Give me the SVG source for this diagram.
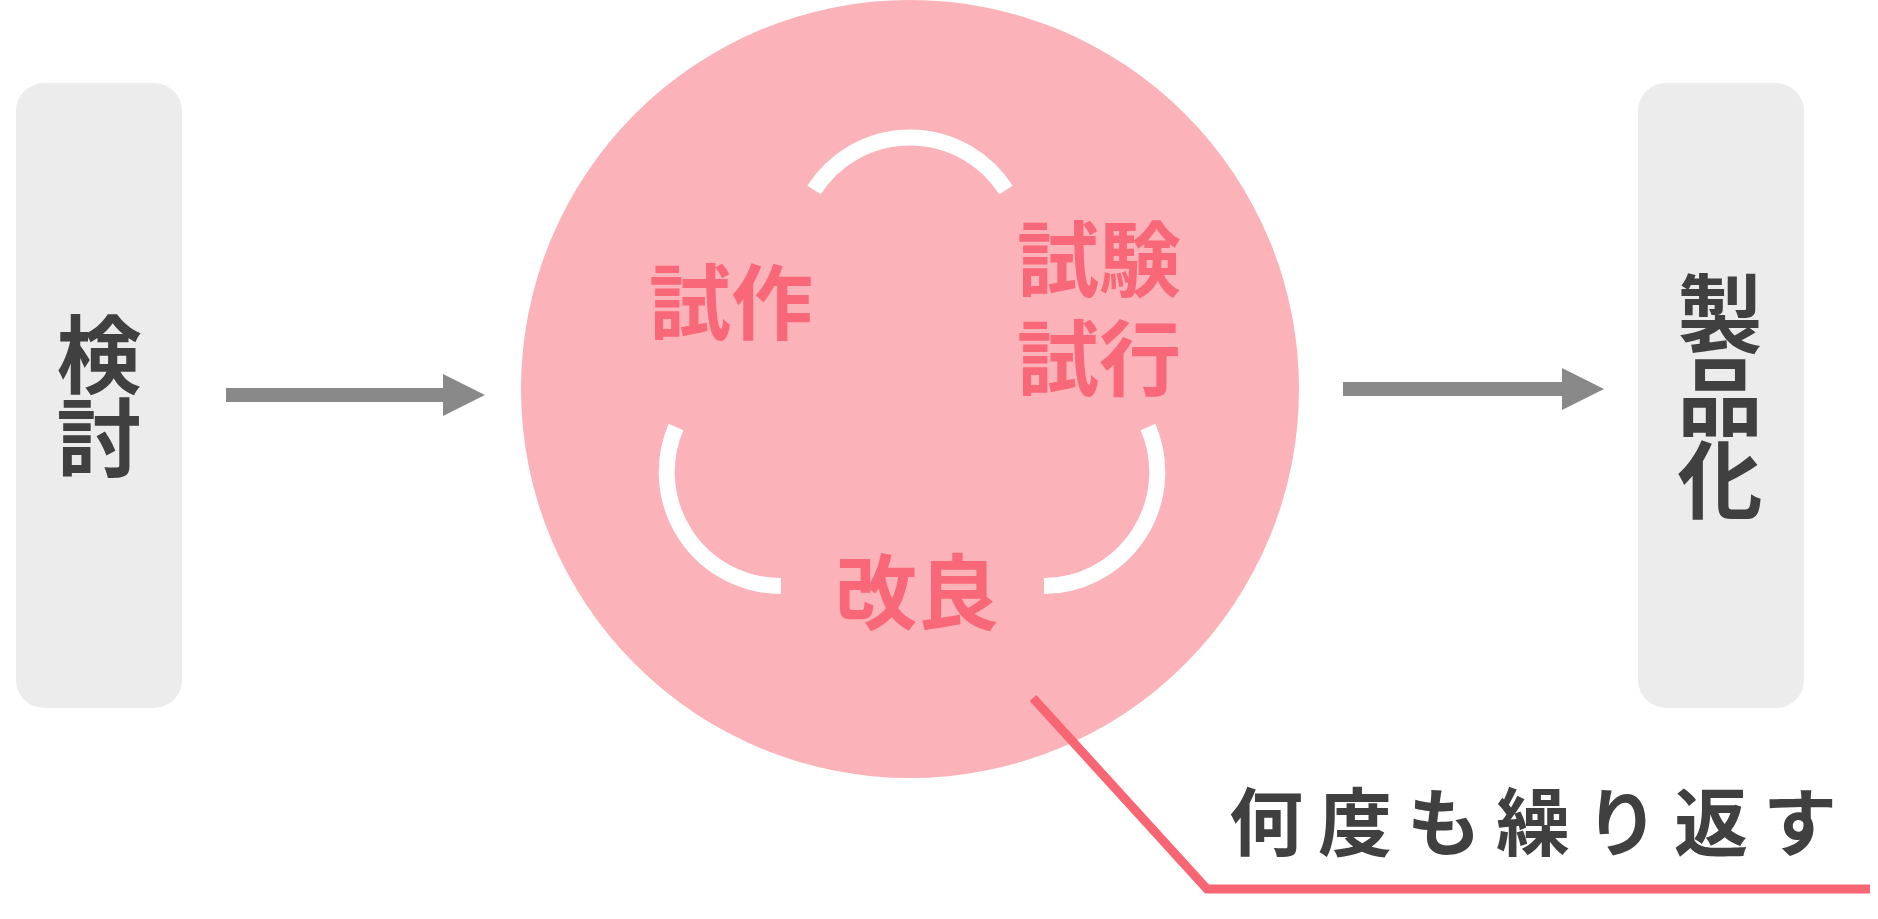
<svg xmlns="http://www.w3.org/2000/svg" width="1878" height="919" viewBox="0 0 1878 919">
<style>
  .box { fill: #ececec; }
  .dark { font-family: "Noto Sans CJK JP", "Noto Sans", sans-serif; font-weight: 700; fill: #404040; text-anchor: middle; }
  .vert { writing-mode: vertical-rl; font-size: 85px; letter-spacing: -2px; }
  .pink { font-family: "Noto Sans CJK JP", "Noto Sans", sans-serif; font-weight: 700; fill: #f96878; text-anchor: middle; font-size: 82px; }
  .arc { fill: none; stroke: #ffffff; stroke-width: 16; }
  .arrow { stroke: #898989; stroke-width: 14; fill: none; }
</style>
<defs>
  <marker id="head" viewBox="0 0 42 42" refX="0" refY="21" markerWidth="42" markerHeight="42" markerUnits="userSpaceOnUse" orient="auto">
    <path d="M0,0 L42,21 L0,42 Z" fill="#898989"/>
  </marker>
</defs>
<rect width="1878" height="919" fill="#ffffff"/>

<g id="node-kentou">
  <rect class="box" x="16" y="83" width="166" height="625" rx="28" ry="28"/>
  <text class="dark vert" x="99" y="395">検討</text>
</g>

<g id="node-cycle">
  <circle cx="910" cy="389" r="389" fill="#fbb2b8"/>
  <path class="arc" d="M 814 190 A 114 114 0 0 1 1006 190"/>
  <path class="arc" d="M 676 427 A 114 114 0 0 0 781 586"/>
  <path class="arc" d="M 1148 427 A 114 114 0 0 1 1044 586"/>
  <text class="pink" x="731" y="333">試作</text>
  <text class="pink" x="1099" y="290">試験</text>
  <text class="pink" x="1099" y="389">試行</text>
  <text class="pink" x="917" y="623">改良</text>
</g>

<g id="node-seihinka">
  <rect class="box" x="1638" y="83" width="166" height="625" rx="28" ry="28"/>
  <text class="dark vert" x="1720" y="396">製品化</text>
</g>

<g id="connectors">
  <line class="arrow" x1="226" y1="395" x2="443" y2="395" marker-end="url(#head)"/>
  <line class="arrow" x1="1343" y1="389" x2="1562" y2="389" marker-end="url(#head)"/>
  <polyline points="1033,698 1207,889 1870,889" fill="none" stroke="#f76672" stroke-width="9"/>
</g>

<g id="label-repeat">
  <text class="dark" x="1229" y="850" font-size="74" letter-spacing="15" style="text-anchor:start">何度も繰り返す</text>
</g>
</svg>
